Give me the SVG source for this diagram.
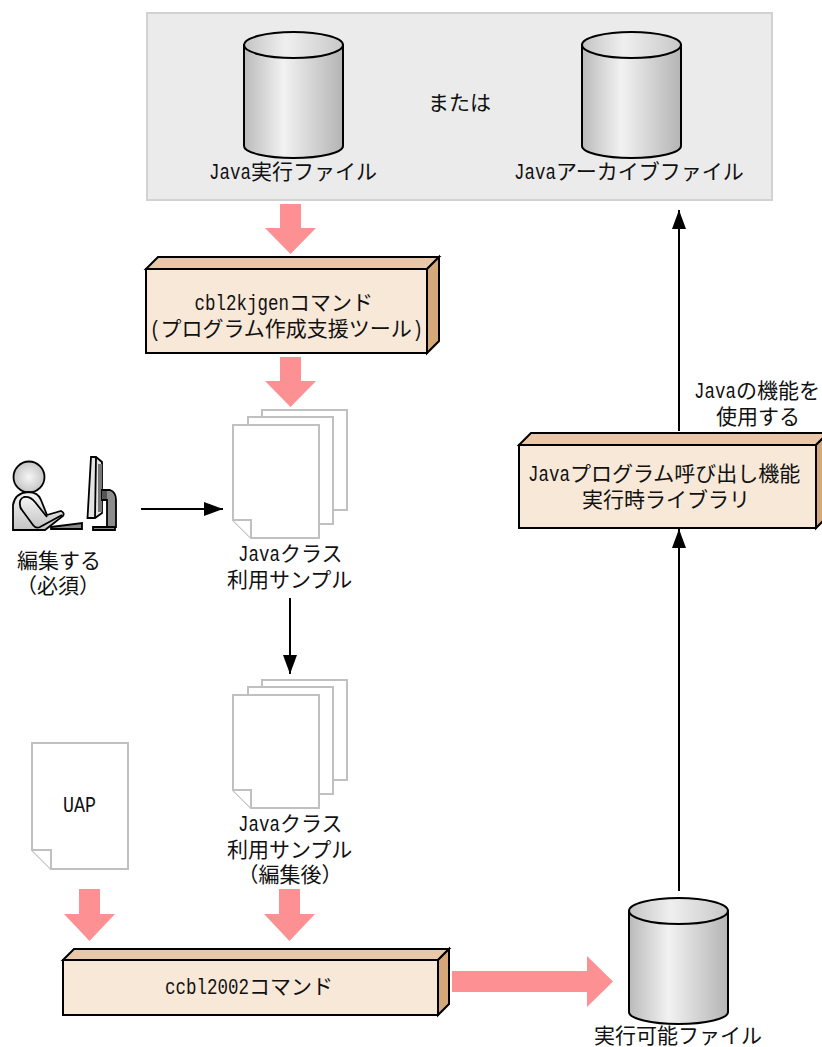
<svg xmlns="http://www.w3.org/2000/svg" width="822" height="1047" viewBox="0 0 822 1047">
<defs>
<linearGradient id="cylBody" x1="0" y1="0" x2="1" y2="0"><stop offset="0" stop-color="#bababa"/><stop offset="0.4" stop-color="#f2f2f2"/><stop offset="1" stop-color="#b4b4b4"/></linearGradient>
<linearGradient id="cylTop" x1="0" y1="0" x2="1" y2="0"><stop offset="0" stop-color="#c4c4c4"/><stop offset="0.42" stop-color="#efefef"/><stop offset="1" stop-color="#c8c8c8"/></linearGradient>
<radialGradient id="headG" cx="0.5" cy="0.5" r="0.55"><stop offset="0" stop-color="#f6f6f6"/><stop offset="1" stop-color="#c0c0c0"/></radialGradient>
<linearGradient id="bodyG" x1="0" y1="0" x2="0" y2="1"><stop offset="0" stop-color="#f4f4f4"/><stop offset="1" stop-color="#c4c4c4"/></linearGradient>
<marker id="ah" markerUnits="userSpaceOnUse" markerWidth="19" markerHeight="14" refX="19" refY="7" orient="auto"><path d="M0 0L19 7L0 14Z" fill="#000"/></marker>
<g id="cyl"><path d="M0 13V114A49.500 12 0 0 0 99 114V13Z" fill="url(#cylBody)" stroke="#000" stroke-width="2"/><ellipse cx="49.500" cy="13" rx="49.500" ry="13" fill="url(#cylTop)" stroke="#000" stroke-width="2"/></g>
<g id="stack" class="doc"><path d="M262 410H347V510H262Z"/><path d="M248 417H333V524H248Z"/><path d="M233 425H319V538H251L233 520Z"/><path d="M233 520H251V538"/></g>
</defs>
<style>
text{font-family:"Noto Sans CJK JP","Liberation Sans",sans-serif;font-size:21px;fill:#111}
.l{font-family:"Liberation Mono",monospace;font-size:22px}
.doc path{fill:#fff;stroke:#c0c0c0;stroke-width:2}
.big{fill:#fd9092}
.f{fill:#f7e8d8}.t{fill:#e8c8a8}.s{fill:#d4a878}
.box path{stroke:#000;stroke-width:2;stroke-linejoin:miter}
.ln{stroke:#000;stroke-width:2;fill:none;marker-end:url(#ah)}
.ic{stroke:#000;stroke-width:1.800}
</style>
<rect width="822" height="1047" fill="#fff"/>
<g id="group-panel"><rect x="147" y="13" width="625" height="187" fill="#ebebeb" stroke="#d2d2d2" stroke-width="2"/>
<text x="428" y="110">または</text></g>
<g id="java-exec"><use href="#cyl" x="244" y="32"/>
<text y="179"><tspan class="l" x="209" textLength="42" lengthAdjust="spacingAndGlyphs">Java</tspan><tspan x="251">実行ファイル</tspan></text></g>
<g id="java-archive"><use href="#cyl" x="582" y="32"/>
<text y="179"><tspan class="l" x="514" textLength="42" lengthAdjust="spacingAndGlyphs">Java</tspan><tspan x="556">アーカイブファイル</tspan></text></g>
<g id="connectors">
<path class="big" d="M280 204H301V228H316L290.500 254L265 228H280Z"/>
<path class="big" d="M280 357H301V381H316L290.500 407L265 381H280Z"/>
<path class="big" d="M79 889H100V914H115L89.500 941L64 914H79Z"/>
<path class="big" d="M279 889H300V914H315L289.500 941L264 914H279Z"/>
<path class="big" d="M452 971H587V956L613 981.500L587 1007V992H452Z"/>
<path class="ln" d="M141 509H223"/>
<path class="ln" d="M290 598V674"/>
<path class="ln" d="M679 891V529"/>
<path class="ln" d="M679 431V210"/>
</g>
<g id="cbl2kjgen" class="box"><path class="t" d="M146 269L158 257H439L427 269Z"/><path class="s" d="M427 269L439 257V341L427 353Z"/><path class="f" d="M146 269H427V353H146Z"/>
<text y="310"><tspan class="l" x="194.500" textLength="94.500" lengthAdjust="spacingAndGlyphs">cbl2kjgen</tspan><tspan x="289">コマンド</tspan></text>
<text y="336"><tspan class="l" x="150" textLength="10.500" lengthAdjust="spacingAndGlyphs">(</tspan><tspan x="160.500">プログラム作成支援ツール</tspan><tspan class="l" x="412.500" textLength="10.500" lengthAdjust="spacingAndGlyphs">)</tspan></text></g>
<g id="samples"><use href="#stack"/>
<text y="561"><tspan class="l" x="238" textLength="42" lengthAdjust="spacingAndGlyphs">Java</tspan><tspan x="280">クラス</tspan></text>
<text x="227" y="587">利用サンプル</text></g>
<g id="editor">
<circle cx="29" cy="477" r="15.500" fill="url(#headG)" class="ic"/>
<path d="M13 530V505Q15 493 28 492Q38 492 41 500L47 515L61 511Q65 513 63 516L45 530Z" fill="url(#bodyG)" class="ic"/>
<path d="M47 517L35 502Q30 496 24 497Q19 499 20 505Q20 508 22 510L33 525Q36 529 40 527L62 515" fill="url(#bodyG)" class="ic"/>
<path d="M51 527L82 523V529H51Z" fill="#8a8a8a" class="ic"/>
<path d="M91 457L87.500 518H95L102 513V462L96 457Z" fill="#e4e4e4" class="ic"/>
<path d="M96 458L95 518" fill="none" class="ic"/>
<path d="M98 464H102V512H98Z" fill="#777"/>
<path d="M102 490H110Q116 492 116 500V527H107V500H102Z" fill="#8c8c8c" class="ic"/>
<path d="M102 491H107V499H102Z" fill="#555"/>
<path d="M93 527H115V530H93Z" fill="#8a8a8a" class="ic"/>
<text x="17" y="568">編集する</text>
<text x="16" y="593">（必須）</text></g>
<g id="samples-edited"><use href="#stack" y="270"/>
<text y="831"><tspan class="l" x="238" textLength="42" lengthAdjust="spacingAndGlyphs">Java</tspan><tspan x="280">クラス</tspan></text>
<text x="227" y="857">利用サンプル</text>
<text x="237.500" y="882">（編集後）</text></g>
<g id="uap"><g class="doc"><path d="M32 743H128V869H51L32 850Z"/><path d="M32 850H51V869"/></g>
<text class="l" y="812" x="63" textLength="33" lengthAdjust="spacingAndGlyphs">UAP</text></g>
<g id="ccbl2002" class="box"><path class="t" d="M63 960L74 949H449L438 960Z"/><path class="s" d="M438 960L449 949V1004L438 1015Z"/><path class="f" d="M63 960H438V1015H63Z"/>
<text y="994"><tspan class="l" x="165" textLength="84" lengthAdjust="spacingAndGlyphs">ccbl2002</tspan><tspan x="249">コマンド</tspan></text></g>
<g id="executable"><use href="#cyl" x="629" y="898"/>
<text x="594" y="1043">実行可能ファイル</text></g>
<g id="runtime-lib" class="box"><path class="t" d="M519 445L531 433H828L816 445Z"/><path class="s" d="M816 445L828 433V516L816 528Z"/><path class="f" d="M519 445H816V528H519Z"/>
<text y="481"><tspan class="l" x="528" textLength="42" lengthAdjust="spacingAndGlyphs">Java</tspan><tspan x="570">プログラム呼び出し機能</tspan></text>
<text x="582" y="507">実行時ライブラリ</text></g>
<g id="java-note"><text y="398"><tspan class="l" x="694" textLength="42" lengthAdjust="spacingAndGlyphs">Java</tspan><tspan x="736">の機能を</tspan></text>
<text x="716" y="424">使用する</text></g>
</svg>
